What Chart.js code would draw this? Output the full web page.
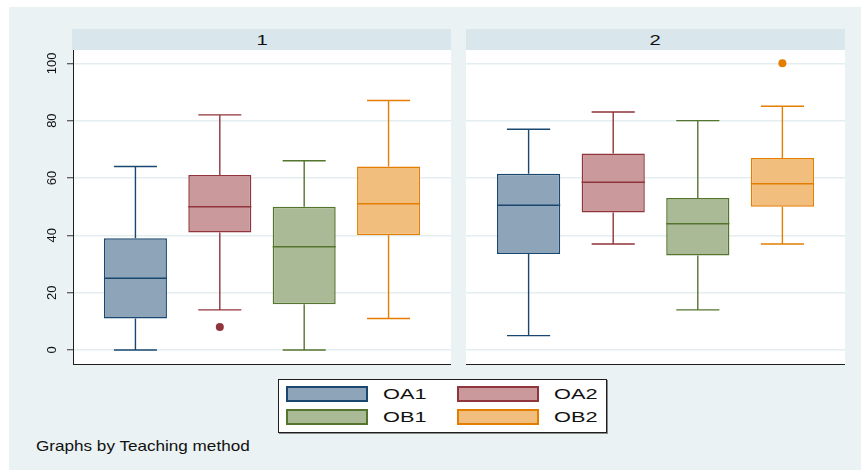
<!DOCTYPE html>
<html>
<head>
<meta charset="utf-8">
<script src="https://cdn.jsdelivr.net/npm/chart.js@4.4.1/dist/chart.umd.min.js"></script>
<style>
  html, body { margin: 0; padding: 0; background: #ffffff; }
  body { width: 861px; height: 470px; position: relative; overflow: hidden;
         font-family: "Liberation Sans", Arial, sans-serif; color: #111; }
  #bg { position: absolute; left: 9px; top: 7px; width: 852px; height: 463px; background: #EAF2F3; }
  .band { position: absolute; top: 29px; height: 21px; background: #D9E6EB; }
  .band span { position: absolute; top: 2px; font-size: 15px; line-height: 17px;
               transform: scaleX(1.35); transform-origin: center; }
  canvas { position: absolute; }
  #legend { position: absolute; left: 278px; top: 379px; width: 327px; height: 52px;
            background: #ffffff; border: 1px solid #1e1e1e; box-shadow: 1px 1px 0 #8a8a8a; }
  .sw { position: absolute; width: 78px; height: 12px; border: 2px solid; }
  .lt { position: absolute; font-size: 15px; line-height: 17px; transform: scaleX(1.45);
        transform-origin: left center; }
  #note { position: absolute; left: 36px; top: 438px; font-size: 14.5px; line-height: 17px;
          transform: scaleX(1.18); transform-origin: left center; }
</style>
</head>
<body>
<div id="bg"></div>
<div class="band" style="left:72px;width:379px;"><span id="h1" style="left:186px;"></span></div>
<div class="band" style="left:466px;width:379px;"><span id="h2" style="left:185px;"></span></div>
<canvas id="panel1" width="431" height="316" style="left:20px;top:50px;"></canvas>
<canvas id="panel2" width="379" height="316" style="left:466px;top:50px;"></canvas>
<div id="legend"></div>
<div id="note">Graphs by Teaching method</div>
<script>
// Outcome variables and panel (teaching method) labels
const categories = ['OA1', 'OA2', 'OB1', 'OB2'];
const panelLabels = ['1', '2'];
const yTicks = [0, 20, 40, 60, 80, 100];

// Teaching method 1: five-number summaries and outside values
const mins1     = [0, 14, 0, 11];
const q1s1      = [11, 41, 16, 40];
const medians1  = [25, 50, 36, 51];
const q3s1      = [39, 61, 50, 64];
const maxs1     = [64, 82, 66, 87];
const outliers1 = [[], [8], [], []];

// Teaching method 2
const mins2     = [5, 37, 14, 37];
const q1s2      = [33.5, 48, 33, 50];
const medians2  = [50.5, 58.5, 44, 58];
const q3s2      = [61.5, 68.5, 53, 67];
const maxs2     = [77, 83, 80, 85];
const outliers2 = [[], [], [], [100]];

const lineColors = ['#1A476F', '#90353B', '#55752F', '#E37E00'];
const fillColors = ['#8DA4B9', '#C9999C', '#AABA96', '#F1BE7E'];

const BOX_FRACTION = 0.747;          // box width as share of the spacing between boxes
const BOX_HALF = BOX_FRACTION / 2;   // median line half-width, x units
const CAP_HALF = 0.255;              // whisker cap half-width, x units

function buildDatasets(mins, q1s, meds, q3s, maxs, outs) {
  const ds = [];
  ds.push({
    type: 'bar',
    data: categories.map((c, i) => ({ x: i + 1, y: [q1s[i], q3s[i]] })),
    backgroundColor: fillColors,
    borderColor: lineColors,
    borderWidth: 1.5,
    borderSkipped: false,
    categoryPercentage: 1,
    barPercentage: BOX_FRACTION,
    order: 3
  });
  categories.forEach((c, i) => {
    const x = i + 1;
    const gap = { x: x, y: null };
    ds.push({
      type: 'line',
      label: c + ' whiskers',
      data: [
        { x: x - CAP_HALF, y: maxs[i] }, { x: x + CAP_HALF, y: maxs[i] }, gap,
        { x: x, y: maxs[i] }, { x: x, y: q3s[i] }, gap,
        { x: x, y: q1s[i] }, { x: x, y: mins[i] }, gap,
        { x: x - CAP_HALF, y: mins[i] }, { x: x + CAP_HALF, y: mins[i] }
      ],
      borderColor: lineColors[i],
      borderWidth: 1.4,
      pointRadius: 0,
      spanGaps: false,
      tension: 0,
      order: 2
    });
    ds.push({
      type: 'line',
      label: c + ' median',
      data: [{ x: x - BOX_HALF, y: meds[i] }, { x: x + BOX_HALF, y: meds[i] }],
      borderColor: lineColors[i],
      borderWidth: 1.5,
      pointRadius: 0,
      order: 1
    });
    if (outs[i].length) {
      ds.push({
        type: 'scatter',
        label: c + ' outside values',
        data: outs[i].map(v => ({ x: x, y: v })),
        backgroundColor: lineColors[i],
        borderWidth: 0,
        pointRadius: 4,
        order: 0
      });
    }
  });
  return ds;
}

const plotBackground = {
  id: 'plotBackground',
  beforeDraw(chart) {
    const a = chart.chartArea, ctx = chart.ctx;
    ctx.save();
    ctx.fillStyle = '#ffffff';
    ctx.fillRect(a.left, a.top, a.right - a.left, a.bottom - a.top);
    ctx.restore();
  }
};

function noPadding(s) {
  s.paddingTop = 0; s.paddingBottom = 0; s.paddingLeft = 0; s.paddingRight = 0;
}

function makePanel(canvasId, datasets, withAxis) {
  return new Chart(document.getElementById(canvasId), {
    type: 'bar',
    data: { datasets: datasets },
    options: {
      responsive: false,
      animation: false,
      devicePixelRatio: 1,
      events: [],
      layout: { padding: 0, autoPadding: false },
      plugins: { legend: { display: false }, tooltip: { enabled: false } },
      scales: {
        x: {
          type: 'linear', min: 0.26, max: 4.74, offset: false,
          afterBuildTicks: s => { s.ticks = categories.map((c, i) => ({ value: i + 1 })); },
          ticks: { display: false },
          grid: { display: false, drawTicks: false },
          border: { display: true, color: '#1e1e1e', width: 1 },
          afterFit: s => { s.height = 2; noPadding(s); }
        },
        y: {
          type: 'linear', min: -4.88, max: 104.64,
          afterBuildTicks: s => { s.ticks = yTicks.map(v => ({ value: v })); },
          ticks: {
            display: withAxis, minRotation: 90, maxRotation: 90, crossAlign: 'center',
            padding: 4, color: '#111',
            font: { family: 'Liberation Sans', size: 13 }
          },
          grid: { color: '#E4EDF0', lineWidth: 1.5, drawTicks: withAxis, tickLength: 6,
                  tickColor: '#333', tickWidth: 1 },
          border: { display: withAxis, color: '#1e1e1e', width: 1 },
          afterFit: s => { s.width = withAxis ? 53 : 0; noPadding(s); }
        }
      }
    },
    plugins: [plotBackground]
  });
}

document.getElementById('h1').textContent = panelLabels[0];
document.getElementById('h2').textContent = panelLabels[1];

makePanel('panel1', buildDatasets(mins1, q1s1, medians1, q3s1, maxs1, outliers1), true);
makePanel('panel2', buildDatasets(mins2, q1s2, medians2, q3s2, maxs2, outliers2), false);

// Legend: two columns, OA* on the top row, OB* on the bottom row
const legend = document.getElementById('legend');
const legendSlots = [[7, 6], [178, 6], [7, 29], [178, 29]];
categories.forEach((c, i) => {
  const [lx, ly] = legendSlots[i];
  const sw = document.createElement('div');
  sw.className = 'sw';
  sw.style.left = lx + 'px';
  sw.style.top = ly + 'px';
  sw.style.background = fillColors[i];
  sw.style.borderColor = lineColors[i];
  legend.appendChild(sw);
  const t = document.createElement('div');
  t.className = 'lt';
  t.style.left = (lx + 97) + 'px';
  t.style.top = (ly - 1) + 'px';
  t.textContent = c;
  legend.appendChild(t);
});
</script>
</body>
</html>
